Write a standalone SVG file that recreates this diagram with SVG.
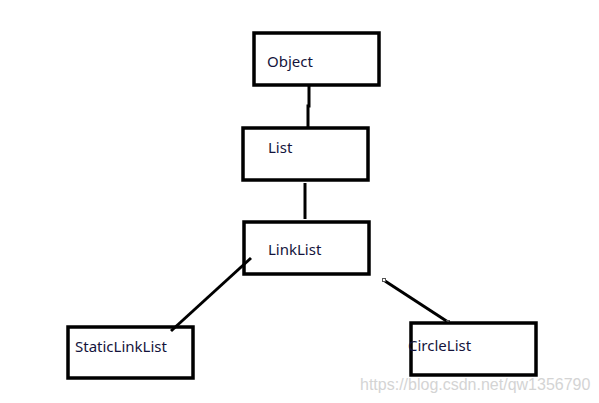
<svg xmlns="http://www.w3.org/2000/svg" width="599" height="403" viewBox="0 0 599 403">
<style>
.box{fill:none;stroke:#000;stroke-width:3.5}
.lbl{font-family:"Noto Sans","Open Sans",sans-serif;font-size:15px;fill:#14143c}
.con{stroke:#000;stroke-width:3;fill:none}
.h{fill:#fff;stroke:#555;stroke-width:1}
.wm{font-family:"Liberation Sans",Arial,sans-serif;font-size:16px;fill:#d4d4d4}
</style>
<rect width="599" height="403" fill="#fff"/>
<g id="connectors">
<path class="con" d="M309,85 L309,106 L308,106 L308,127"/>
<line class="con" x1="305" y1="183" x2="305" y2="219"/>
<line class="con" x1="251" y1="258" x2="171" y2="331"/>
<line class="con" x1="385" y1="281" x2="448" y2="322"/>
<rect class="h" x="382.5" y="278.5" width="3" height="3"/>
<rect class="h" x="446.5" y="320.5" width="3" height="3"/>
</g>
<g id="object"><rect class="box" x="254" y="33" width="125" height="52"/><text class="lbl" x="267" y="67">Object</text></g>
<g id="list"><rect class="box" x="243" y="128" width="125" height="52"/><text class="lbl" x="268" y="153">List</text></g>
<g id="linklist"><rect class="box" x="244" y="222" width="125" height="52"/><text class="lbl" x="268" y="255">LinkList</text></g>
<g id="staticlinklist"><rect class="box" x="68" y="327" width="125" height="51"/><text class="lbl" x="75" y="352">StaticLinkList</text></g>
<g id="circlelist"><rect class="box" x="411" y="323" width="125" height="52"/><text class="lbl" x="408" y="351">CircleList</text></g>
<text class="wm" x="360" y="390">https://blog.csdn.net/qw1356790</text>
</svg>
